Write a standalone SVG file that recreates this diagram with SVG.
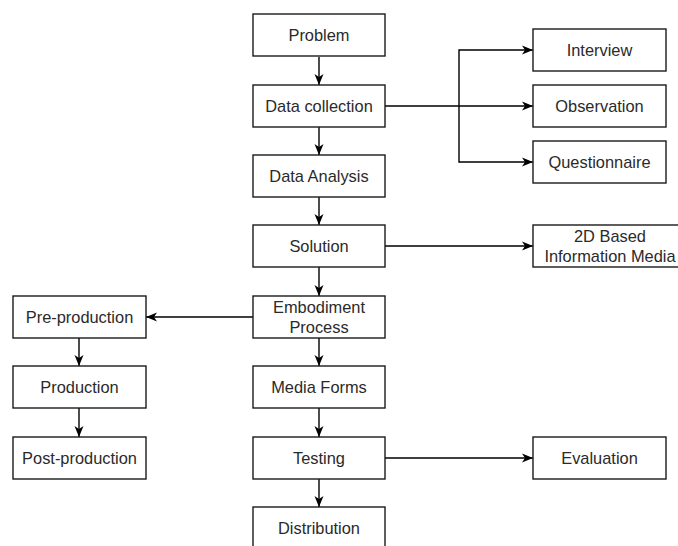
<svg xmlns="http://www.w3.org/2000/svg" width="678" height="546" viewBox="0 0 678 546">
<style>
.box{fill:#fff;stroke:#1a1a1a;stroke-width:1.4}
.lbl{font-family:"Liberation Sans",Arial,sans-serif;font-size:16.4px;fill:#2a2a2a;text-anchor:middle}
.ln{fill:none;stroke:#000;stroke-width:1.4}
</style>
<defs>
<marker id="ah" markerUnits="userSpaceOnUse" markerWidth="12" markerHeight="10" refX="11" refY="5" orient="auto">
<path d="M0,0.5 L11,5 L0,9.5 L3,5 z" fill="#000"/>
</marker>
</defs>
<rect width="678" height="546" fill="#fff"/>
<g id="connectors">
<path class="ln" d="M319,57 V85" marker-end="url(#ah)"/>
<path class="ln" d="M319,127 V155" marker-end="url(#ah)"/>
<path class="ln" d="M319,197 V225" marker-end="url(#ah)"/>
<path class="ln" d="M319,267 V296" marker-end="url(#ah)"/>
<path class="ln" d="M319,338 V366" marker-end="url(#ah)"/>
<path class="ln" d="M319,408 V437" marker-end="url(#ah)"/>
<path class="ln" d="M319,479 V507" marker-end="url(#ah)"/>
<path class="ln" d="M385,106 H533" marker-end="url(#ah)"/>
<path class="ln" d="M459,106 V50 H533" marker-end="url(#ah)"/>
<path class="ln" d="M459,106 V162 H533" marker-end="url(#ah)"/>
<path class="ln" d="M385,246 H533" marker-end="url(#ah)"/>
<path class="ln" d="M253,317 H146" marker-end="url(#ah)"/>
<path class="ln" d="M79,338 V366" marker-end="url(#ah)"/>
<path class="ln" d="M79,408 V437" marker-end="url(#ah)"/>
<path class="ln" d="M385,458 H533" marker-end="url(#ah)"/>
</g>
<g id="problem"><rect class="box" x="253" y="14" width="132" height="42"/><text class="lbl" x="319" y="41">Problem</text></g>
<g id="data-collection"><rect class="box" x="253" y="85" width="132" height="42"/><text class="lbl" x="319" y="112">Data collection</text></g>
<g id="data-analysis"><rect class="box" x="253" y="155" width="132" height="42"/><text class="lbl" x="319" y="182">Data Analysis</text></g>
<g id="solution"><rect class="box" x="253" y="225" width="132" height="42"/><text class="lbl" x="319" y="252">Solution</text></g>
<g id="embodiment"><rect class="box" x="253" y="296" width="132" height="42"/><text class="lbl" x="319" y="313">Embodiment</text><text class="lbl" x="319" y="333">Process</text></g>
<g id="media-forms"><rect class="box" x="253" y="366" width="132" height="42"/><text class="lbl" x="319" y="393">Media Forms</text></g>
<g id="testing"><rect class="box" x="253" y="437" width="132" height="42"/><text class="lbl" x="319" y="464">Testing</text></g>
<g id="distribution"><rect class="box" x="253" y="507" width="132" height="42"/><text class="lbl" x="319" y="534">Distribution</text></g>
<g id="interview"><rect class="box" x="533" y="29" width="133" height="42"/><text class="lbl" x="599.5" y="56">Interview</text></g>
<g id="observation"><rect class="box" x="533" y="85" width="133" height="42"/><text class="lbl" x="599.5" y="112">Observation</text></g>
<g id="questionnaire"><rect class="box" x="533" y="141" width="133" height="42"/><text class="lbl" x="599.5" y="168">Questionnaire</text></g>
<g id="media-2d"><rect class="box" x="533" y="225" width="155" height="42"/><text class="lbl" x="610" y="242">2D Based</text><text class="lbl" x="610" y="262">Information Media</text></g>
<g id="evaluation"><rect class="box" x="533" y="437" width="133" height="42"/><text class="lbl" x="599.5" y="464">Evaluation</text></g>
<g id="pre-production"><rect class="box" x="13" y="296" width="133" height="42"/><text class="lbl" x="79.5" y="323">Pre-production</text></g>
<g id="production"><rect class="box" x="13" y="366" width="133" height="42"/><text class="lbl" x="79.5" y="393">Production</text></g>
<g id="post-production"><rect class="box" x="13" y="437" width="133" height="42"/><text class="lbl" x="79.5" y="464">Post-production</text></g>
</svg>
